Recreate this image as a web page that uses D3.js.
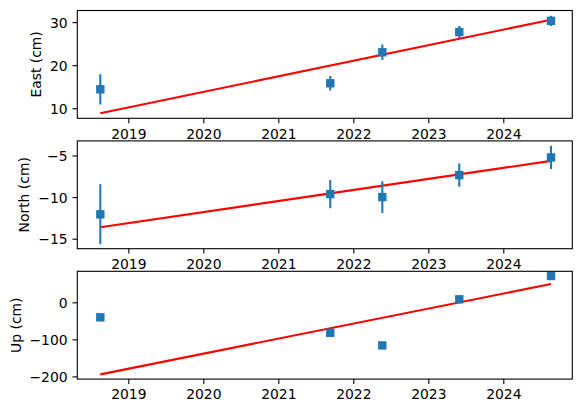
<!DOCTYPE html>
<html>
<head>
<meta charset="utf-8">
<script src="https://cdn.jsdelivr.net/npm/d3@7"></script>
<style>
  body { margin: 0; background: #fff; }
  svg { display: block; font-family: "DejaVu Sans", sans-serif; }
</style>
</head>
<body>
<svg id="chart" width="583" height="413"></svg>
<script>
// survey epochs (decimal year)
var dates = [2018.627, 2021.693, 2022.387, 2023.413, 2024.636];

var east    = [14.4, 15.8, 23.0, 27.7, 30.3];
var eastErr = [3.5, 1.7, 1.8, 1.4, 1.2];
var north    = [-12.07, -9.64, -10.0, -7.36, -5.24];
var northErr = [3.6, 1.7, 1.9, 1.4, 1.4];
var up    = [-40.5, -82.2, -116.3, 8.1, 71.1];
var upErr = [3, 3, 3, 3, 3];

// linear fit, value at first and last epoch
var fitDates = [2018.627, 2024.636];
var eastFit  = [8.84, 30.55];
var northFit = [-13.63, -5.65];
var upFit    = [-194.5, 49.5];

var xTicks = [2019, 2020, 2021, 2022, 2023, 2024];
var eastTicks  = [10, 20, 30];
var northTicks = [-15, -10, -5];
var upTicks    = [-200, -100, 0];

var labels = ["East (cm)", "North (cm)", "Up (cm)"];

var panels = [
  { label: labels[0], vals: east,  errs: eastErr,  fit: eastFit,  ticks: eastTicks,  domain: [7.67, 32.70] },
  { label: labels[1], vals: north, errs: northErr, fit: northFit, ticks: northTicks, domain: [-16.2, -3.25] },
  { label: labels[2], vals: up,    errs: upErr,    fit: upFit,    ticks: upTicks,    domain: [-207.3, 83.8] }
];

var left = 77.3, right = 572.3,
    tops = [10.5, 140.9, 271.3],
    ph = 107.8;
var blue = "#1f77b4";
var fs = 13.9, tickLen = 4.86, pad = 4.86;
var fmt = d3.format("d");

var svg = d3.select("#chart");

var x = d3.scaleLinear().domain([2018.32, 2024.92]).range([left, right]);

panels.forEach(function(p, k) {
  var top = tops[k], bottom = top + ph;
  var y = d3.scaleLinear().domain(p.domain).range([bottom, top]);
  var g = svg.append("g");

  // axes background
  g.append("rect")
    .attr("x", left).attr("y", top)
    .attr("width", right - left).attr("height", ph)
    .attr("fill", "#fff");

  var clip = g.append("clipPath").attr("id", "clip" + k)
  clip.append("rect")
    .attr("x", left).attr("y", top)
    .attr("width", right - left).attr("height", ph);
  var plot = g.append("g").attr("clip-path", "url(#clip" + k + ")");

  // fit line
  plot.append("path")
    .datum(fitDates.map(function(d, i) { return [d, p.fit[i]]; }))
    .attr("d", d3.line().x(function(d) { return x(d[0]); }).y(function(d) { return y(d[1]); }))
    .attr("fill", "none")
    .attr("stroke", "red")
    .attr("stroke-width", 2.08);

  // error bars
  plot.selectAll(".err")
    .data(dates)
    .enter().append("line")
    .attr("x1", function(d) { return x(d); })
    .attr("x2", function(d) { return x(d); })
    .attr("y1", function(d, i) { return y(p.vals[i] - p.errs[i]); })
    .attr("y2", function(d, i) { return y(p.vals[i] + p.errs[i]); })
    .attr("stroke", blue)
    .attr("stroke-width", 2.08);

  // square markers
  var ms = 8.4;
  plot.selectAll(".pt")
    .data(dates)
    .enter().append("rect")
    .attr("x", function(d) { return x(d) - ms / 2; })
    .attr("y", function(d, i) { return y(p.vals[i]) - ms / 2; })
    .attr("width", ms).attr("height", ms)
    .attr("fill", blue);

  // spines
  g.append("rect")
    .attr("x", left).attr("y", top)
    .attr("width", right - left).attr("height", ph)
    .attr("fill", "none")
    .attr("stroke", "#000")
    .attr("stroke-width", 1.1);

  // x axis
  var xa = g.append("g").attr("transform", "translate(0," + bottom + ")")
    .call(d3.axisBottom(x).tickValues(xTicks).tickFormat(fmt).tickSizeOuter(0).tickSize(tickLen).tickPadding(pad));
  xa.select(".domain").remove();
  xa.selectAll("line").attr("stroke", "#000").attr("stroke-width", 1.1);
  xa.selectAll("text")
    .attr("font-size", fs)
    .attr("font-family", "DejaVu Sans")
    .attr("fill", "#000")
    .attr("dy", null)
    .attr("y", tickLen + pad + 10.6);

  // y axis
  var ya = g.append("g").attr("transform", "translate(" + left + ",0)")
    .call(d3.axisLeft(y).tickValues(p.ticks).tickFormat(fmt).tickSizeOuter(0).tickSize(tickLen).tickPadding(pad));
  ya.select(".domain").remove();
  ya.selectAll("line").attr("stroke", "#000").attr("stroke-width", 1.1);
  ya.selectAll("text")
    .attr("font-size", fs)
    .attr("font-family", "DejaVu Sans")
    .attr("fill", "#000")
    .attr("dy", "0.36em");

  var wmax = 0;
  ya.selectAll("text").each(function() { wmax = Math.max(wmax, this.getBBox().width); });

  var lx = left - tickLen - pad - wmax - 5.56 - 3.3;
  var ly = (top + bottom) / 2;
  g.append("text")
    .attr("transform", "translate(" + lx + "," + ly + ") rotate(-90)")
    .attr("text-anchor", "middle")
    .attr("font-size", fs)
    .attr("fill", "#000")
    .text(p.label);
});
</script>
</body>
</html>
